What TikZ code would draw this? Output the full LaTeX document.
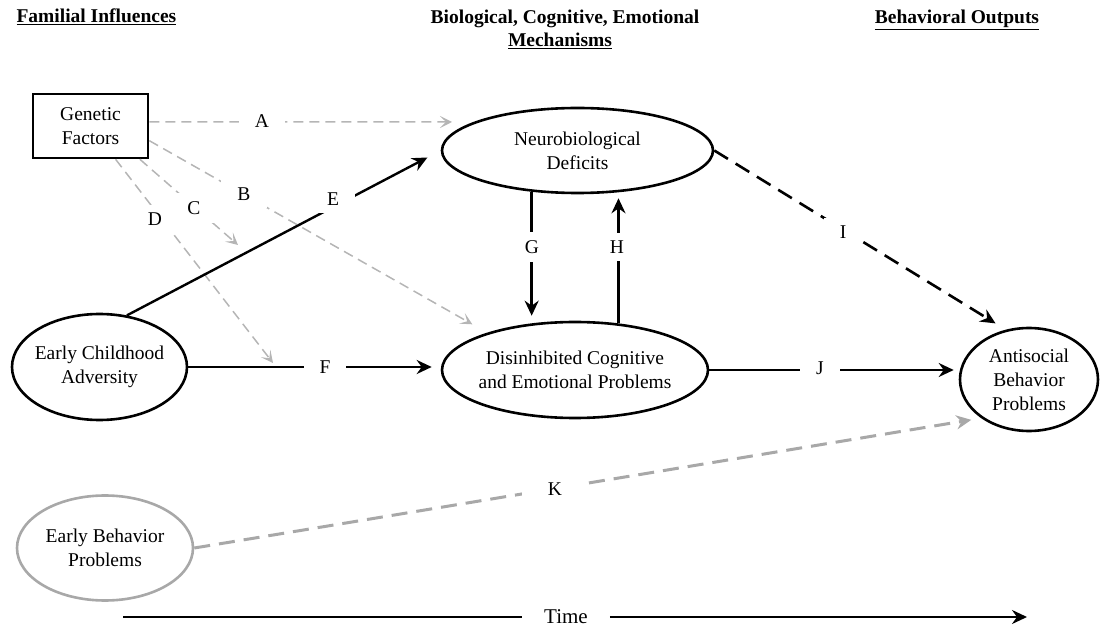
\documentclass[tikz,border=0pt]{standalone}
\usepackage{fontspec}
\setmainfont{Liberation Serif}
\usepackage{tikz}
\usetikzlibrary{calc, arrows.meta, shapes.geometric}
\definecolor{cgray}{HTML}{B5B5B5}
\definecolor{cgrayk}{HTML}{A8A8A8}
\newcommand{\figfont}{\fontsize{19.5}{24}\selectfont}
\tikzset{
  ovl/.style={ellipse, draw, line width=2.6pt, inner xsep=-4pt, inner ysep=0pt, align=center},
  gbox/.style={rectangle, draw, line width=2.6pt, minimum width=115pt, minimum height=64pt, align=center},
  hdr/.style={font={\figfont\bfseries}, anchor=base},
  tag/.style={fill=white, inner xsep=16pt, inner ysep=8pt},
  blk/.style={line width=2.4pt, -{Stealth[length=15pt, width=14pt, inset=5pt]}},
  gln/.style={cgray, line width=1.5pt, dash pattern=on 10pt off 6pt, -{Stealth[length=12pt, width=12pt, inset=6pt]}},
}

\begin{document}
\begin{tikzpicture}[x=1pt, y=-1pt, font=\figfont]
\useasboundingbox (0,0) rectangle (1101,628);

\node[hdr, anchor=base west] (hFam) at (13,23) {\underline{Familial Influences}};
\node[hdr] (hBio) at (565,24) {Biological, Cognitive, Emotional};
\node[hdr] (hMech) at (560,47) {\underline{Mechanisms}};
\node[hdr] (hOut) at (957,24) {\underline{Behavioral Outputs}};

\node[gbox] (gen) at (90.5,126) {Genetic\\Factors};
\node[ovl, minimum width=175pt, minimum height=106pt] (eca) at (99.5,367) {Early Childhood\\Adversity};
\node[ovl, draw=cgrayk, minimum width=176pt, minimum height=105pt] (ebp) at (105,548) {Early Behavior\\Problems};
\node[ovl, minimum width=271pt, minimum height=85pt] (neu) at (577.5,150.5) {Neurobiological\\Deficits};
\node[ovl, minimum width=266pt, minimum height=96pt] (dis) at (575,370) {Disinhibited Cognitive\\and Emotional Problems};
\node[ovl, minimum width=138pt, minimum height=103pt] (asb) at (1029,379.5) {Antisocial\\Behavior\\Problems};

\coordinate (aEnd) at (452,122);
\coordinate (cEnd) at (238,245);
\coordinate (dEnd) at (273,363);
\coordinate (tBeg) at (123,617);
\coordinate (tEnd) at (1027,617);

\draw[gln] (gen.4) -- (aEnd);
\draw[gln, shorten >=17pt] (gen.-14) -- (dis.157);
\draw[gln] (gen.-34) -- (cEnd);
\draw[gln] (gen.-53) -- (dEnd);

\draw[blk, shorten >=15pt] (eca.62) -- (neu.west);
\draw[blk, shorten >=9pt] (eca.east) -- (eca.east -| dis.west);
\draw[blk, shorten >=5pt] (neu.-138) -- (neu.-138 |- dis.north);
\draw[blk, shorten >=4pt] (dis.47) -- (dis.47 |- neu.south);
\draw[blk, line width=2.6pt, dash pattern=on 16pt off 9pt, shorten >=12pt] (neu.east) -- (asb.115);
\draw[blk, shorten >=5pt] (dis.east) -- (dis.east -| asb.west);
\draw[blk, cgrayk, line width=3pt, dash pattern=on 16pt off 9pt, shorten >=10pt] (ebp.east) -- (asb.-141);

\node[font=\fontsize{21}{25}\selectfont, inner xsep=22pt] (time) at (566,617) {Time};
\draw[line width=2.8pt] (tBeg) -- (time);
\draw[blk, line width=2.8pt] (time) -- (tEnd);

\node[tag] (lA) at (262,121) {A};
\node[tag] (lB) at (244,194) {B};
\node[tag] (lC) at (194,208) {C};
\node[tag] (lD) at (155,219) {D};
\node[tag] (lE) at (333,199) {E};
\node[tag] (lF) at (325,367) {F};
\node[tag] (lG) at (532,247) {G};
\node[tag] (lH) at (617,247) {H};
\node[tag] (lI) at (843,232) {I};
\node[tag] (lJ) at (820,368) {J};
\node[tag, inner xsep=26pt] (lK) at (555,489) {K};

\end{tikzpicture}
\end{document}
